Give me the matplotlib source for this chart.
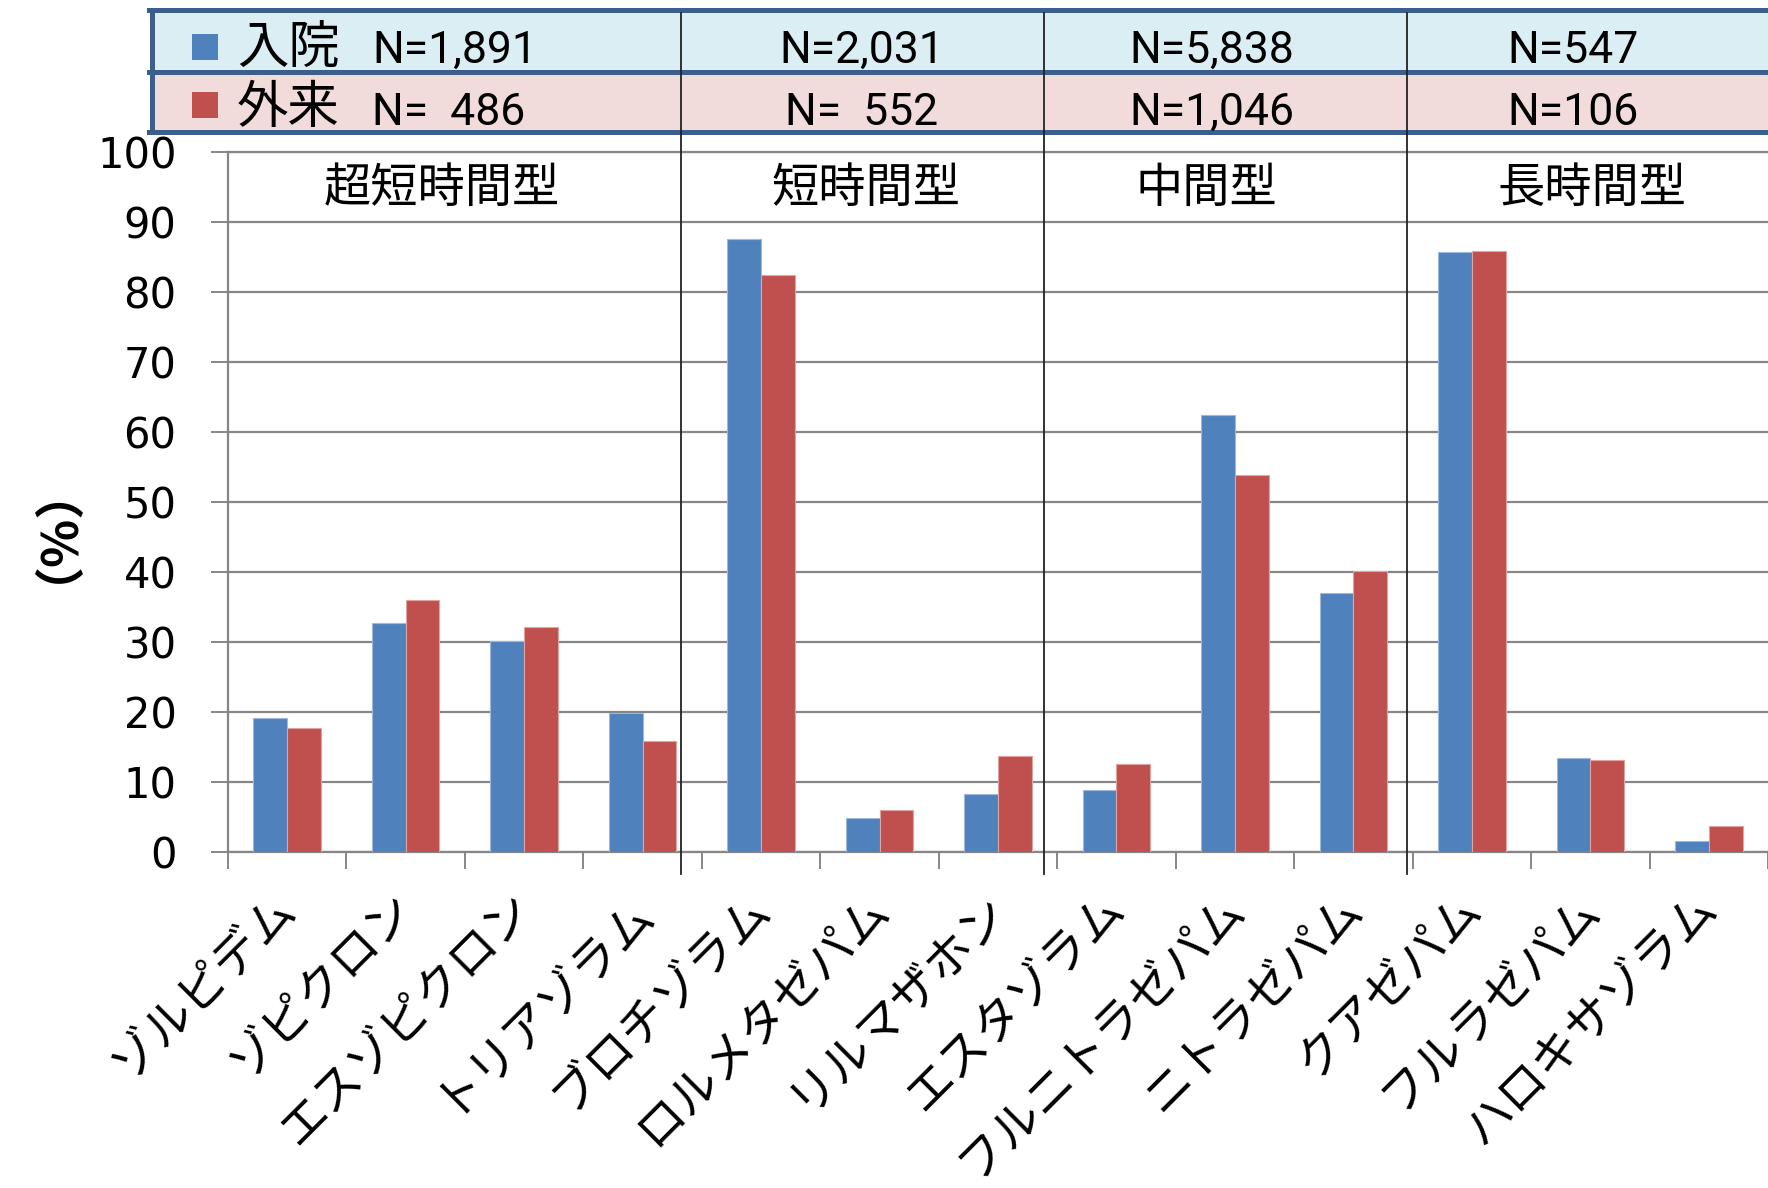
import matplotlib
matplotlib.use('Agg')
import matplotlib.pyplot as plt
import numpy as np
from matplotlib.patches import Rectangle
from matplotlib.lines import Line2D
from matplotlib.transforms import Affine2D, ScaledTranslation

plt.rcParams['font.family'] = ['Noto Sans CJK JP', 'DejaVu Sans']

# data
drugs = ['ゾルピデム', 'ゾピクロン', 'エスゾピクロン', 'トリアゾラム',
         'ブロチゾラム', 'ロルメタゼパム', 'リルマザホン',
         'エスタゾラム', 'フルニトラゼパム', 'ニトラゼパム',
         'クアゼパム', 'フルラゼパム', 'ハロキサゾラム']
inpatient = [19.2, 32.7, 30.1, 19.8, 87.6, 4.8, 8.3, 8.9, 62.4, 37.0, 85.7, 13.5, 1.6]
outpatient = [17.7, 36.0, 32.2, 15.8, 82.4, 6.0, 13.7, 12.6, 53.9, 40.2, 85.8, 13.2, 3.7]
groups = ['超短時間型', '短時間型', '中間型', '長時間型']
series_names = ['入院', '外来']
n_inpatient = ['N=1,891', 'N=2,031', 'N=5,838', 'N=547']
n_outpatient = ['N=  486', 'N=  552', 'N=1,046', 'N=106']

blue = '#4F81BD'
red = '#C0504D'
grid_c = '#868686'
frame_c = '#3B5E8C'

W, H = 1768, 1188
fig = plt.figure(figsize=(W / 100, H / 100), dpi=100)
ax = fig.add_axes([228 / W, 336 / H, 1540 / W, 700 / H])

x = np.arange(len(drugs)) + 0.5
w = 0.285
ax.bar(x - w / 2, inpatient, w, color=blue, edgecolor='#9db8dc', linewidth=0.8, zorder=3)
ax.bar(x + w / 2, outpatient, w, color=red, edgecolor='#e3a3a1', linewidth=0.8, zorder=3)

ax.set_xlim(0, len(drugs))
ax.set_ylim(0, 100)
ax.set_yticks(range(0, 101, 10))
ax.yaxis.grid(True, color=grid_c, lw=1.6)
ax.set_axisbelow(True)
ax.spines['right'].set_visible(False)
for s in ['left', 'top', 'bottom']:
    ax.spines[s].set_color(grid_c)
    ax.spines[s].set_linewidth(1.6)
ax.tick_params(axis='y', length=12, width=1.4, color=grid_c, pad=25, labelsize=30)
for lab in ax.get_yticklabels():
    lab.set_fontfamily('DejaVu Sans')

ax.set_xticks(x)
ax.set_xticklabels(drugs, rotation=45, ha='right', va='center',
                   rotation_mode='anchor', fontsize=34.5)
ax.tick_params(axis='x', which='major', length=0, pad=35)
ax.set_xticks(np.arange(len(drugs) + 1), minor=True)
ax.tick_params(axis='x', which='minor', length=12, width=1.4, color=grid_c)
shift = ScaledTranslation(1 / 100, 0, fig.dpi_scale_trans)
for lab in ax.get_xticklabels():
    lab.set_transform(lab.get_transform() + shift)

fig.text(46 / W, 1 - 509 / H, '（%）', rotation=90, fontsize=36, fontweight='bold',
         ha='center', va='baseline', rotation_mode='anchor')

# header table in pixel coords
tp = Affine2D().scale(1 / W, -1 / H).translate(0, 1) + fig.transFigure
fig.add_artist(Rectangle((152, 10), 1700, 62, facecolor='#DAEEF3', edgecolor='none', transform=tp))
fig.add_artist(Rectangle((152, 72), 1700, 60, facecolor='#F2DCDB', edgecolor='none', transform=tp))
for yy in [10, 72, 132]:
    fig.add_artist(Line2D([149, 1780], [yy, yy], color=frame_c, lw=3.6, transform=tp))
fig.add_artist(Line2D([152, 152], [10, 132], color=frame_c, lw=3.6, transform=tp))

for sx in [681, 1044, 1407]:
    fig.add_artist(Line2D([sx, sx], [13, 874], color='#222222', lw=1.3, transform=tp))

fig.add_artist(Rectangle((192, 34), 26, 26, facecolor=blue, edgecolor='none', transform=tp))
fig.add_artist(Rectangle((192, 92), 26, 26, facecolor=red, edgecolor='none', transform=tp))
fig.text(237, 48, series_names[0], fontsize=37, ha='left', va='center', transform=tp)
fig.text(237, 108, series_names[1], fontsize=37, ha='left', va='center', transform=tp)

nfont = ['Roboto', 'DejaVu Sans']
fig.text(372, 51, n_inpatient[0], fontsize=32, family=nfont, ha='left', va='center', transform=tp)
fig.text(372, 113, n_outpatient[0], fontsize=32, family=nfont, ha='left', va='center', transform=tp)
col_cx = [862, 1212, 1573]
for i, cx in enumerate(col_cx):
    fig.text(cx, 51, n_inpatient[i + 1], fontsize=32, family=nfont, ha='center', va='center', transform=tp)
    fig.text(cx, 113, n_outpatient[i + 1], fontsize=32, family=nfont, ha='center', va='center', transform=tp)

group_cx = [442, 866, 1206, 1592]
for g, gx in zip(groups, group_cx):
    fig.text(gx, 189, g, fontsize=34, ha='center', va='center', transform=tp)

fig.savefig('out.png', dpi=100)
